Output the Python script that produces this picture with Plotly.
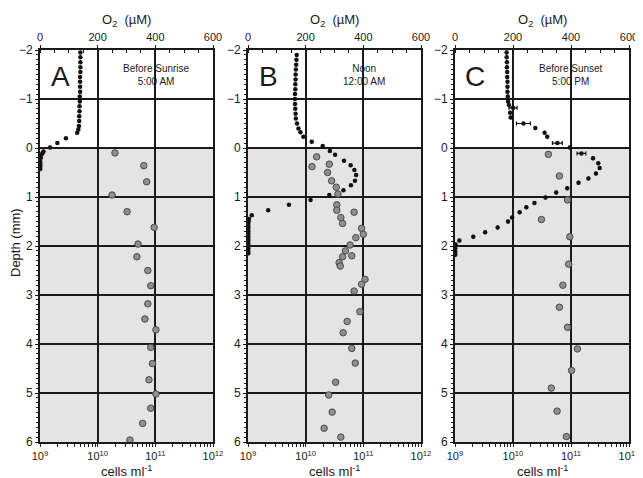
import plotly.graph_objects as go

# ---------------- data ----------------
panel_letters = ["A", "B", "C"]
panel_notes = ["Before Sunrise<br>5:00 AM", "Noon<br>12:00 AM", "Before Sunset<br>5:00 PM"]

A_o2_depth = [-1.95, -1.85, -1.75, -1.65, -1.55, -1.45, -1.35, -1.25, -1.15, -1.05, -0.95, -0.85,
              -0.75, -0.65, -0.55, -0.45, -0.38, -0.31, -0.2, -0.1, -0.01, 0.07, 0.1, 0.13, 0.2,
              0.28, 0.33, 0.38, 0.43]
A_o2 = [140, 140, 140, 140, 140, 139, 139, 139, 139, 138, 138, 137,
        137, 136, 136, 135, 133, 129, 90, 60, 35, 12, 9, 6, 3,
        1, 1, 1, 1]
A_cell_depth = [0.10, 0.36, 0.69, 0.96, 1.30, 1.62, 1.96, 2.22, 2.50, 2.81, 3.18, 3.49, 3.71,
                4.07, 4.40, 4.73, 5.02, 5.31, 5.62, 5.96]
A_cell_log = [10.30, 10.80, 10.85, 10.25, 10.51, 10.98, 10.70, 10.68, 10.87, 10.92, 10.87, 10.82, 11.01,
              10.92, 10.95, 10.89, 11.01, 10.92, 10.78, 10.56]

B_o2_depth = [-1.9, -1.8, -1.7, -1.6, -1.5, -1.4, -1.3, -1.2, -1.1, -1.0, -0.9, -0.8, -0.7, -0.6,
              -0.5, -0.4, -0.32, -0.23, -0.13, -0.04, 0.06, 0.14, 0.26, 0.35, 0.45, 0.55, 0.67,
              0.76, 0.86, 0.96, 1.06, 1.16, 1.27, 1.37, 1.45, 1.5, 1.55, 1.6, 1.65, 1.7, 1.75,
              1.8, 1.85, 1.9, 1.95, 2.0, 2.05, 2.1, 2.15]
B_o2 = [169, 168, 167, 166, 165, 165, 164, 164, 163, 163, 163, 164, 165, 166,
        170, 175, 182, 192, 221, 259, 284, 302, 333, 356, 369, 375, 371,
        357, 331, 282, 217, 142, 70, 13, 3, 2, 1, 1, 1, 1, 1,
        1, 1, 1, 1, 1, 1, 1, 1]
B_cell_depth = [0.18, 0.33, 0.38, 0.50, 0.67, 0.80, 0.94, 1.16, 1.27, 1.31, 1.42, 1.54, 1.64, 1.76,
                1.83, 1.98, 2.10, 2.20, 2.22, 2.34, 2.41, 2.68, 2.78, 2.92, 3.34, 3.54, 3.77,
                4.09, 4.39, 4.78, 5.04, 5.39, 5.72, 5.90]
B_cell_log = [10.19, 10.41, 10.11, 10.38, 10.45, 10.53, 10.56, 10.54, 10.54, 10.84, 10.61, 10.64, 10.97, 11.00,
              10.87, 10.77, 10.69, 10.80, 10.64, 10.58, 10.60, 11.03, 10.97, 10.84, 10.94, 10.72, 10.65,
              10.80, 10.86, 10.52, 10.40, 10.46, 10.32, 10.61]

C_o2_depth = [-1.95, -1.85, -1.75, -1.65, -1.55, -1.45, -1.35, -1.25, -1.15, -1.05, -0.95, -0.88,
              -0.82, -0.72, -0.62, -0.5, -0.41, -0.31, -0.23, -0.1, -0.01, 0.11, 0.21, 0.31,
              0.41, 0.52, 0.62, 0.71, 0.82, 0.91, 1.01, 1.12, 1.21, 1.31, 1.42, 1.5, 1.62,
              1.72, 1.81, 1.89, 1.97, 2.05, 2.12, 2.18]
C_o2 = [178, 178, 179, 179, 180, 180, 181, 181, 181, 182, 183, 186,
        200, 190, 192, 236, 277, 309, 318, 353, 396, 436, 476, 494,
        499, 486, 460, 426, 387, 349, 312, 274, 246, 223, 197, 183, 147,
        104, 63, 15, 2, 1, 1, 1]
C_o2_err = [0, 0, 0, 0, 0, 0, 0, 0, 0, 0, 0, 0,
            14, 0, 0, 24, 0, 0, 0, 17, 0, 15, 0, 0,
            0, 0, 0, 0, 0, 0, 0, 0, 0, 0, 0, 0, 0,
            0, 0, 0, 0, 0, 0, 0]
C_cell_depth = [0.13, 0.57, 1.06, 1.46, 1.81, 2.37, 2.80, 3.25, 3.66, 4.10, 4.54, 4.90, 5.37, 5.89]
C_cell_log = [10.61, 10.80, 10.94, 10.49, 10.98, 10.96, 10.86, 10.80, 10.94, 11.11, 11.01, 10.66, 10.76, 10.92]

o2_ticks = [0, 200, 400, 600]
cell_ticks = [1e9, 1e10, 1e11, 1e12]
cell_ticktext = ["10<sup>9</sup>", "10<sup>10</sup>", "10<sup>11</sup>", "10<sup>12</sup>"]
cell_minor_ticks = [m * d for d in (1e9, 1e10, 1e11) for m in range(2, 10)]
depth_ticks = [-2, -1, 0, 1, 2, 3, 4, 5, 6]

# ---------------- figure ----------------
# The page body has an 8px margin, so the figure is 8px smaller and all
# page positions below are converted to figure positions with OFF.
OFF = 8
W, H = 643 - OFF, 478 - OFF
panels_px = [(40, 213), (248, 421), (455, 629)]   # page pixels
y_top_px, y_bot_px = 50, 442                        # page pixels


def fx(p):
    return (p - OFF) / W


def fy(p):
    return 1 - (p - OFF) / H


ydom = [fy(y_bot_px), fy(y_top_px)]

FONT = "Liberation Sans, Arial, Helvetica, sans-serif"
INK = "#1a1a1a"

fig = go.Figure()

o2_sets = [(A_o2, A_o2_depth, None), (B_o2, B_o2_depth, None), (C_o2, C_o2_depth, C_o2_err)]
cell_sets = [(A_cell_log, A_cell_depth), (B_cell_log, B_cell_depth), (C_cell_log, C_cell_depth)]


def ann(text, x, y, size, angle=0):
    fig.add_annotation(text=text, xref="paper", yref="paper", x=fx(x), y=fy(y),
                       xanchor="center", yanchor="middle", showarrow=False,
                       textangle=angle, align="center",
                       font=dict(family=FONT, size=size, color=INK))


layout = {}
for i in range(3):
    xa_log = 2 * i + 1
    xa_lin = 2 * i + 2
    ya = i + 1
    dom = [fx(panels_px[i][0]), fx(panels_px[i][1])]
    xl = "x" if xa_log == 1 else f"x{xa_log}"
    xo = f"x{xa_lin}"
    yy = "y" if ya == 1 else f"y{ya}"
    lk = "xaxis" if xa_log == 1 else f"xaxis{xa_log}"
    ok = f"xaxis{xa_lin}"
    yk = "yaxis" if ya == 1 else f"yaxis{ya}"

    layout[lk] = dict(
        type="log", range=[9, 12], domain=dom, anchor=yy, side="bottom",
        tickmode="array", tickvals=cell_ticks, ticktext=cell_ticktext,
        showgrid=True, gridcolor=INK, gridwidth=2,
        showline=True, linecolor=INK, linewidth=2,
        ticks="outside", ticklen=3, tickcolor=INK,
        minor=dict(tickmode="array", tickvals=cell_minor_ticks, ticks="outside",
                   ticklen=3, tickcolor=INK, showgrid=False),
        tickfont=dict(family=FONT, size=11, color=INK),
        zeroline=False, fixedrange=True, automargin=False,
    )
    layout[ok] = dict(
        range=[0, 600], domain=dom, anchor=yy, overlaying=xl, side="top",
        tickmode="array", tickvals=o2_ticks, showgrid=False,
        showline=True, linecolor=INK, linewidth=2,
        ticks="outside", ticklen=3, tickcolor=INK,
        minor=dict(ticks="inside", ticklen=3, dtick=50, tickcolor=INK, showgrid=False),
        tickfont=dict(family=FONT, size=11, color=INK),
        zeroline=False, fixedrange=True, automargin=False,
    )
    layout[yk] = dict(
        range=[6, -2], domain=ydom, anchor=xl,
        tickmode="array", tickvals=depth_ticks,
        showgrid=True, gridcolor=INK, gridwidth=2,
        zeroline=True, zerolinecolor=INK, zerolinewidth=2,
        showline=True, linecolor=INK, linewidth=2, mirror=True,
        ticks="outside", ticklen=3, tickcolor=INK,
        minor=dict(ticks="outside", ticklen=2, dtick=0.1, tickcolor=INK, showgrid=False),
        tickfont=dict(family=FONT, size=12, color=INK),
        fixedrange=True, automargin=False,
    )

    # sediment shading
    fig.add_shape(type="rect", xref=f"{xl} domain", yref=yy, x0=0, x1=1, y0=0, y1=6,
                  fillcolor="#e4e4e4", line=dict(width=0), layer="below")

    cl, cd = cell_sets[i]
    fig.add_trace(go.Scatter(
        x=[10 ** v for v in cl], y=cd, mode="markers", xaxis=xl, yaxis=yy,
        marker=dict(size=6.5, color="#8f8f8f", line=dict(color="#4a4a4a", width=1)),
        showlegend=False, hoverinfo="skip"))

    ov, od, oe = o2_sets[i]
    tr = dict(x=ov, y=od, mode="markers", xaxis=xo, yaxis=yy,
              marker=dict(size=4.5, color="#111111"), showlegend=False, hoverinfo="skip")
    if oe is not None:
        tr["error_x"] = dict(type="data", array=oe, visible=True, color="#111111",
                             thickness=1.2, width=2)
    fig.add_trace(go.Scatter(**tr))

    cx = (panels_px[i][0] + panels_px[i][1]) / 2
    ann("O<sub>2</sub>  (µM)", cx, 20, 13)
    ann("cells ml<sup>-1</sup>", cx, 471, 13)
    ann(panel_letters[i], panels_px[i][0] + 20, 76, 28)
    ann(panel_notes[i], panels_px[i][0] + 116, 75, 10)

ann("Depth (mm)", 15, 243, 13, angle=-90)

fig.update_layout(
    width=W, height=H,
    margin=dict(l=0, r=0, t=0, b=0),
    paper_bgcolor="white", plot_bgcolor="white",
    showlegend=False,
    **layout,
)

fig.write_html("out.html")
